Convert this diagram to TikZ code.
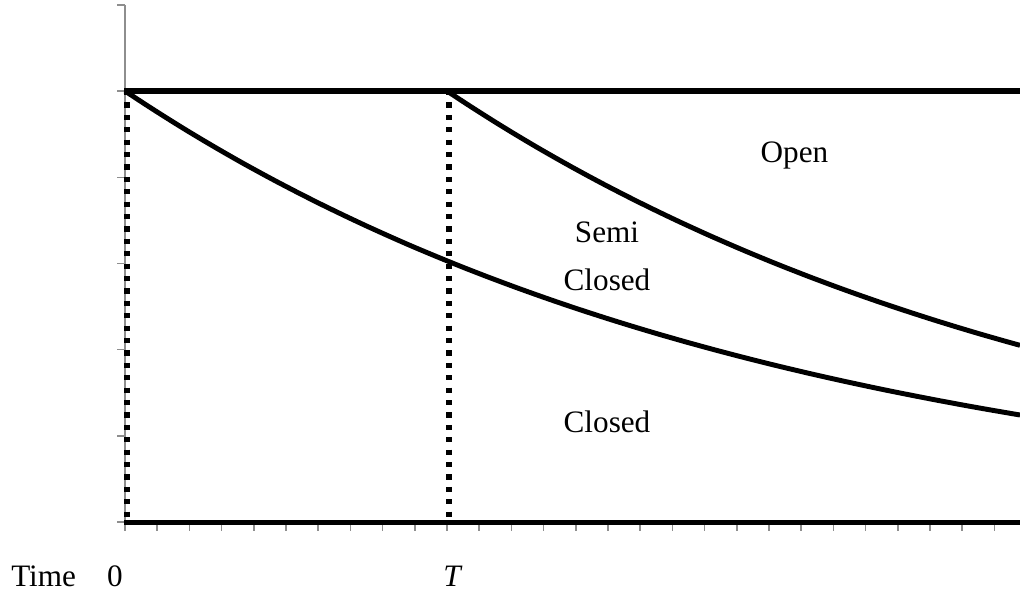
\documentclass[tikz,border=0pt]{standalone}
\usepackage{fontspec}
\setmainfont{Liberation Serif}
\definecolor{maxis}{HTML}{8E8E8E}
\tikzset{
  axisline/.style={maxis, line width=1.5pt},
  tickline/.style={maxis, line width=1.1pt},
  bound/.style={black, line width=3.8pt},
  decay/.style={black, line width=3.7pt},
  marker/.style={black, line width=4pt, dash pattern=on 3.9pt off 5.4pt},
  lbl/.style={font=\fontsize{23.4}{28}\selectfont, inner sep=0pt, anchor=base},
}

\begin{document}
\begin{tikzpicture}[x=0.75pt, y=-0.75pt]
  \useasboundingbox (0,0) rectangle (1020,593);

  %% Axis and ticks
  \draw[axisline] (124.5,5) -- (124.5,525);
  \foreach \k in {0,...,6}{
    \draw[tickline] (117,{5+86.17*\k}) -- (124.5,{5+86.17*\k});
  }
  \foreach \i in {0,...,27}{
    \draw[tickline] ({125+32.2*\i},524) -- ++(0,7);
  }

  %% Dotted markers at 0 and T
  \draw[marker] (127,90) -- (127,522);
  \draw[marker] (449,90) -- (449,522);

  %% Bounds
  \draw[bound] (124,91) -- (1020,91);
  \draw[black, line width=4.4pt] (124,522.5) -- (1020,522.5);

  %% Decay curves
  \draw[decay] plot[domain=125:1020, samples=90]
    (\x, {522-431*exp(-0.00155*(\x-125))});
  \draw[decay] plot[domain=447:1020, samples=70]
    (\x, {522-431*exp(-0.00155*(\x-447))});

  %% Region labels
  \node[lbl] (open)    at (794.5,162) {Open};
  \node[lbl] (semi)    at (607,242)   {Semi};
  \node[lbl] (semicl)  at (607,290)   {Closed};
  \node[lbl] (closed)  at (607,432)   {Closed};

  %% Time labels
  \node[lbl, anchor=base west] (time) at (11,586) {Time};
  \node[lbl] (zero) at (115,586) {0};
  \node[lbl] (tmark) at (453,586) {\textit{T}};
\end{tikzpicture}
\end{document}
